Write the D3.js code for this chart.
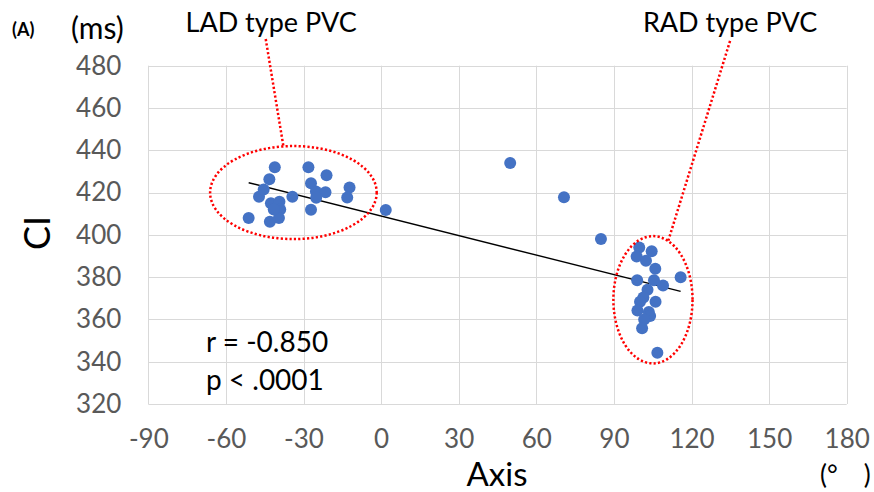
<!DOCTYPE html>
<html>
<head>
<meta charset="utf-8">
<script src="https://cdn.jsdelivr.net/npm/d3@7"></script>
<style>
  body { margin: 0; background: #fff; }
  svg { display: block; font-family: Lato, "Open Sans", sans-serif; }
</style>
</head>
<body>
<script>
// PVC axis (deg) vs coupling interval (ms)
const axisDeg = [
  -51.2, -47.2, -45.4, -43.2, -41.1, -42.6, -39.3, -39.0, -39.5, -43.0, -41.5,
  -34.3, -28.1, -21.1, -27.1, -25.2, -21.5, -25.1, -27.1, -12.2, -13.1, 1.8,
  49.9, 70.7, 85.0,
  99.8, 104.6, 98.8, 102.4, 106.0, 115.8, 99.0, 105.5, 109.0, 103.0, 101.4,
  106.1, 100.1, 99.1, 103.5, 104.0, 101.7, 100.9, 106.8
]
const ciMs = [
  408, 418, 421.5, 426.3, 432, 415, 415.7, 412, 408, 406.2, 412,
  418, 432, 428.2, 424.4, 420.5, 420.2, 417.5, 411.9, 422.4, 417.7, 411.8,
  434, 417.8, 398,
  394, 392.2, 389.8, 387.8, 384, 380, 378.5, 378.5, 376.1, 374, 370.4,
  368.4, 368.4, 364.2, 363.5, 361.6, 360, 355.8, 344.2
]
const xTicks = [-90, -60, -30, 0, 30, 60, 90, 120, 150, 180]
const yTicks = [320, 340, 360, 380, 400, 420, 440, 460, 480]

// annotation ellipses, in data units: [cx, cy, rx, ry]
// lead = where the dotted leader leaves the label, tip = x offset (in rx) where it meets the ellipse
const groups = [
  { label: 'LAD type PVC', ellipse: [-33.9, 420.0, 32.2, 22.0], textX: -42.5, lead: [-44.6, 492.6], tip: -0.12 },
  { label: 'RAD type PVC', ellipse: [105.1, 369.3, 15.3, 30.1], textX: 134.9, lead: [134.9, 491.7], tip: 0.385 },
]

const W = 874, H = 492
const margin = { top: 65.7, right: 27.3, bottom: 88, left: 148.3 }

const svg = d3.select('body').append('svg')
  .attr('width', W)
  .attr('height', H)

const x = d3.scaleLinear().domain([-90, 180]).range([margin.left, W - margin.right])
const y = d3.scaleLinear().domain([320, 480]).range([H - margin.bottom, margin.top])

// grid
svg.append('g')
  .selectAll('line')
  .data(xTicks)
  .join('line')
  .attr('x1', d => Math.round(x(d)) + 0.5).attr('x2', d => Math.round(x(d)) + 0.5)
  .attr('y1', y(480)).attr('y2', y(320))
  .attr('stroke', '#d9d9d9')
svg.append('g')
  .selectAll('line')
  .data(yTicks)
  .join('line')
  .attr('y1', d => Math.round(y(d)) + 0.5).attr('y2', d => Math.round(y(d)) + 0.5)
  .attr('x1', x(-90)).attr('x2', x(180))
  .attr('stroke', '#d9d9d9')

// tick labels
const xAxis = svg.append('g')
  .attr('transform', `translate(0,${y(320)})`)
  .call(d3.axisBottom(x).tickValues(xTicks).tickFormat(d => String(d)).tickSize(0).tickPadding(26))
const yAxis = svg.append('g')
  .attr('transform', `translate(${x(-90)},0)`)
  .call(d3.axisLeft(y).tickValues(yTicks).tickFormat(d => String(d)).tickSize(0).tickPadding(27))
;[xAxis, yAxis].forEach(g => {
  g.select('.domain').remove()
  g.selectAll('text')
    .attr('fill', '#595959')
    .style('font-family', 'Lato, sans-serif')
    .style('font-size', '26px')
})

// regression line (least squares over the points)
const mx = d3.mean(axisDeg), my = d3.mean(ciMs)
const slope = d3.sum(axisDeg, (v, i) => (v - mx) * (ciMs[i] - my)) / d3.sum(axisDeg, v => (v - mx) ** 2)
const icpt = my - slope * mx
const [x0, x1] = d3.extent(axisDeg)
svg.append('line')
  .attr('x1', x(x0)).attr('y1', y(icpt + slope * x0))
  .attr('x2', x(x1)).attr('y2', y(icpt + slope * x1))
  .attr('stroke', '#000')
  .attr('stroke-width', 1.4)

// points
svg.append('g')
  .selectAll('circle')
  .data(axisDeg.map((v, i) => [v, ciMs[i]]))
  .join('circle')
  .attr('cx', d => x(d[0]))
  .attr('cy', d => y(d[1]))
  .attr('r', 6)
  .attr('fill', '#4472c4')

// group ellipses + leaders
groups.forEach(g => {
  const [cx, cy, rx, ry] = g.ellipse
  const ex = x(cx), ey = y(cy)
  const prx = x(cx + rx) - x(cx), pry = y(cy) - y(cy + ry)
  svg.append('ellipse')
    .attr('cx', ex).attr('cy', ey)
    .attr('rx', prx).attr('ry', pry)
    .attr('fill', 'none')
    .attr('stroke', '#ff0000')
    .attr('stroke-width', 2.5)
    .attr('stroke-dasharray', '2.2 2.2')
  const tipX = ex + g.tip * prx
  const tipY = ey - pry * Math.sqrt(1 - g.tip * g.tip)
  svg.append('line')
    .attr('x1', x(g.lead[0])).attr('y1', y(g.lead[1]))
    .attr('x2', tipX).attr('y2', tipY)
    .attr('stroke', '#ff0000')
    .attr('stroke-width', 2.5)
    .attr('stroke-dasharray', '2.2 2.2')
  svg.append('text')
    .attr('x', x(g.textX)).attr('y', 32)
    .attr('text-anchor', 'middle')
    .style('font-size', '27px')
    .text(g.label)
})

// labels
svg.append('text').attr('x', 12).attr('y', 36)
  .style('font-size', '18px').style('font-weight', 'bold').text('(A)')
svg.append('text').attr('x', 71).attr('y', 39)
  .style('font-size', '30px').text('(ms)')
svg.append('text')
  .attr('transform', 'translate(50,233) rotate(-90)')
  .attr('text-anchor', 'middle')
  .style('font-size', '36px').text('CI')
svg.append('text').attr('x', 497).attr('y', 486)
  .attr('text-anchor', 'middle')
  .style('font-size', '33px').text('Axis')
svg.append('text').attr('x', 820).attr('y', 484)
  .style('font-size', '26px').text('(°　)')
svg.append('text').attr('x', 206).attr('y', 352)
  .style('font-size', '28px').text('r = -0.850')
svg.append('text').attr('x', 206).attr('y', 390)
  .style('font-size', '28px').text('p < .0001')
</script>
</body>
</html>
